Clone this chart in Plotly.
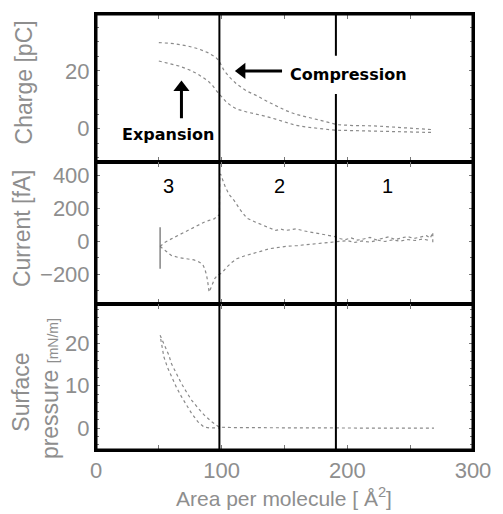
import plotly.graph_objects as go
from plotly.subplots import make_subplots

# ---------------- data ----------------
# Charge [pC] vs area
charge_comp_x = [50, 62, 73, 81, 89, 95, 98, 102, 107, 112, 120, 128, 136, 143, 151, 159, 167, 175, 185, 192, 205, 221, 235, 245, 255, 268]
charge_comp_y = [29.8, 29.4, 28.6, 27.7, 26.3, 24.8, 23.4, 20.0, 17.5, 15.4, 13.0, 11.4, 9.5, 7.9, 6.3, 5.0, 4.2, 3.4, 2.2, 1.4, 1.1, 1.0, 0.6, 0.3, 0.1, -0.3]
charge_exp_x = [50, 58, 66, 74, 81, 89, 93, 97, 101, 104, 108, 112, 120, 128, 136, 143, 151, 159, 167, 175, 190, 210, 230, 250, 268]
charge_exp_y = [23.4, 22.6, 21.7, 20.4, 18.9, 16.6, 14.8, 12.5, 10.6, 9.1, 7.8, 6.8, 5.8, 5.1, 4.2, 3.3, 2.3, 1.2, 0.6, 0.2, -0.5, -0.7, -0.9, -1.1, -1.3]

# Current [fA] vs area
cur_comp_x = [51, 55, 60, 66, 73, 80, 86, 90, 94, 97, 98.2, 98.5, 99.5, 101, 103, 106, 110, 115, 120, 127, 133, 138, 143, 147, 151, 155, 159, 165, 172, 180, 186, 190,
              194, 198, 203, 208, 213, 218, 223, 228, 233, 238, 243, 248, 253, 258, 263, 266, 268, 268]
cur_comp_y = [-30, -5, 16, 40, 67, 92, 117, 128, 137, 158, 160, 410, 405, 370, 329, 285, 248, 190, 142, 117, 97, 85, 67, 75, 67, 72, 77, 65, 56, 45, 35, 30,
              18, 10, 22, 8, 15, 25, 10, 20, 28, 12, 22, 30, 18, 25, 35, 20, 55, -15]
cur_exp_x = [51, 56, 60, 66, 73, 78, 82, 85, 86.5, 88, 89, 90, 91, 92.7, 94.5, 96.6, 99, 102, 104, 108, 112, 118, 125, 131, 138, 145, 151, 160, 170, 180, 190,
             195, 200, 206, 212, 218, 224, 230, 236, 242, 248, 254, 260, 266]
cur_exp_y = [-30, -60, -85, -98, -105, -112, -125, -140, -165, -205, -250, -307, -290, -256, -225, -206, -196, -175, -156, -128, -105, -88, -75, -60, -44, -36, -30, -25, -18, -10, -4,
             -2, 5, -6, 3, -4, 8, 0, 10, 2, 12, 6, 15, 5]
cur_spike_x = [51, 51]
cur_spike_y = [87, -165]

# Surface pressure [mN/m] vs area
pres_comp_x = [51, 53, 55, 58, 60, 64, 68, 72, 76, 81, 86, 92, 98, 110, 130, 150, 170, 190, 210, 230, 250, 269]
pres_comp_y = [21.9, 20.5, 19.1, 17.2, 15.2, 12.8, 10.5, 8.5, 6.6, 4.8, 3.1, 1.5, 0.2, 0.1, 0.05, 0, 0, 0, 0, 0, 0, 0]
pres_exp_x = [51.5, 52.5, 54, 57, 60, 64, 68, 72, 76, 81, 84, 86, 90, 95, 98]
pres_exp_y = [21.0, 19.5, 16.8, 14.2, 12.1, 9.6, 7.4, 5.3, 3.5, 1.5, 0.6, 0.2, 0.05, 0, 0]

x_tickvals = [0, 100, 200, 300]
region_bounds = [98.2, 190.9]
region_labels = ["3", "2", "1"]
region_label_x = [57.7, 146, 231.7]

# ---------------- figure ----------------
GRAY = "#8e8e8e"
CURVE = "#8a8a8a"
FONT = "Liberation Sans, Arial, sans-serif"

fig = make_subplots(rows=3, cols=1, shared_xaxes=True, vertical_spacing=0)

def line(x, y, row, color=CURVE, width=1.2, dash="dot"):
    fig.add_trace(go.Scatter(x=x, y=y, mode="lines", line=dict(color=color, width=width, dash=dash),
                             showlegend=False, hoverinfo="skip"), row=row, col=1)

line(charge_comp_x, charge_comp_y, 1)
line(charge_exp_x, charge_exp_y, 1)
line(cur_comp_x, cur_comp_y, 2)
line(cur_exp_x, cur_exp_y, 2)
line(cur_spike_x, cur_spike_y, 2, color="#666", width=1.2, dash="solid")
line(pres_comp_x, pres_comp_y, 3)
line(pres_exp_x, pres_exp_y, 3)

ranges = {1: [-11.38, 39.66], 2: [-381.8, 484.8], 3: [-5.18, 29.18]}
h = [148, 143, 146]
tot = sum(h)
d3 = h[2] / tot
d2 = (h[2] + h[1]) / tot
domains = {1: [d2, 1.0], 2: [d3, d2], 3: [0.0, d3]}

axcommon = dict(showline=True, linewidth=2, linecolor="black", mirror="ticks",
                showgrid=False, zeroline=False, ticks="inside", tickcolor="#777",
                tickfont=dict(family=FONT, size=22, color=GRAY))

for r in (1, 2, 3):
    fig.update_xaxes(range=[0, 300], tickvals=x_tickvals,
                     minor=dict(dtick=50, tick0=0, ticks="inside", ticklen=5, tickcolor="#777"),
                     showticklabels=(r == 3), ticklen=5, row=r, col=1, **axcommon)
    fig.update_yaxes(range=ranges[r], domain=domains[r], ticklen=4, row=r, col=1, **axcommon)

fig.update_yaxes(tickvals=[0, 20], minor=dict(dtick=5, tick0=0, ticks="inside", ticklen=3, tickcolor="#777"), row=1, col=1)
fig.update_yaxes(tickvals=[-200, 0, 200, 400], minor=dict(dtick=100, tick0=0, ticks="inside", ticklen=3, tickcolor="#777"), row=2, col=1)
fig.update_yaxes(tickvals=[0, 10, 20], minor=dict(dtick=2, tick0=0, ticks="inside", ticklen=3, tickcolor="#777"), row=3, col=1)

# outer frame
fig.add_shape(type="rect", xref="paper", yref="paper", x0=0, x1=1, y0=0, y1=1,
              line=dict(color="black", width=3), layer="above")

# region boundary lines
yref = {1: "y", 2: "y2", 3: "y3"}
xb1, xb2 = region_bounds
for r in (1, 2, 3):
    lo, hi = ranges[r]
    fig.add_shape(type="line", xref="x", yref=yref[r], x0=xb1, x1=xb1, y0=lo, y1=hi,
                  line=dict(color="black", width=2))
    if r == 1:
        fig.add_shape(type="line", xref="x", yref="y", x0=xb2, x1=xb2, y0=lo, y1=12,
                      line=dict(color="black", width=2))
        fig.add_shape(type="line", xref="x", yref="y", x0=xb2, x1=xb2, y0=25.2, y1=hi,
                      line=dict(color="black", width=2))
    else:
        fig.add_shape(type="line", xref="x", yref=yref[r], x0=xb2, x1=xb2, y0=lo, y1=hi,
                      line=dict(color="black", width=2))

# region numbers
for lab, xv in zip(region_labels, region_label_x):
    fig.add_annotation(x=xv, y=336, xref="x", yref="y2", text=lab, showarrow=False,
                       font=dict(family=FONT, size=20, color="black"))

# Compression / Expansion labels with arrows (shaft = shape, head = triangle marker)
BOLD = "DejaVu Sans, sans-serif"
fig.add_annotation(x=152.7, y=18.6, xref="x", yref="y", text="<b>Compression</b>", showarrow=False,
                   xanchor="left", font=dict(family=BOLD, size=16, color="black"))
fig.add_annotation(x=56.9, y=-2.1, xref="x", yref="y", text="<b>Expansion</b>", showarrow=False,
                   font=dict(family=BOLD, size=16, color="black"))

comp_tip = (112.2, 20.0)
comp_tail_x = comp_tip[0] + 46 * 300 / 385
fig.add_shape(type="line", xref="x", yref="y", x0=comp_tip[0] + 6 * 300 / 385, x1=comp_tail_x,
              y0=comp_tip[1], y1=comp_tip[1], line=dict(color="black", width=3))
fig.add_trace(go.Scatter(x=[comp_tip[0] + 5 * 300 / 385], y=[comp_tip[1]], mode="markers",
                         marker=dict(symbol="triangle-left", size=14, color="black"),
                         showlegend=False, hoverinfo="skip"), row=1, col=1)

exp_tip = (68.0, 16.0)
ypp = 148 / (39.66 + 11.38)
fig.add_shape(type="line", xref="x", yref="y", x0=exp_tip[0], x1=exp_tip[0],
              y0=exp_tip[1] - 6 / ypp, y1=exp_tip[1] - 36 / ypp, line=dict(color="black", width=3))
fig.add_trace(go.Scatter(x=[exp_tip[0]], y=[exp_tip[1] - 5 / ypp], mode="markers",
                         marker=dict(symbol="triangle-up", size=14, color="black"),
                         showlegend=False, hoverinfo="skip"), row=1, col=1)

# axis titles as annotations
W, H = 503, 514
L, R, T, B = 96, 22, 13, 64
pw, ph = W - L - R, H - T - B

def px2paper(px, py):
    return (px - L) / pw, (H - B - py) / ph

def title(text, px, py, size=23, angle=-90):
    xp, yp = px2paper(px, py)
    fig.add_annotation(x=xp, y=yp, xref="paper", yref="paper", text=text, showarrow=False,
                       textangle=angle, xanchor="center", yanchor="middle",
                       font=dict(family=FONT, size=size, color=GRAY))

title("Charge [pC]", 22, 82)
title("Current [fA]", 20, 228)
title("Surface", 20, 392)
title("pressure <span style='font-size:14px'>[mN/m]</span>", 49, 388)
title("Area per molecule [ Å<sup>2</sup>]", 288, 497, size=21, angle=0)

fig.update_layout(width=W, height=H, margin=dict(l=L, r=R, t=T, b=B),
                  paper_bgcolor="white", plot_bgcolor="white", showlegend=False)

fig.write_html("out.html")
